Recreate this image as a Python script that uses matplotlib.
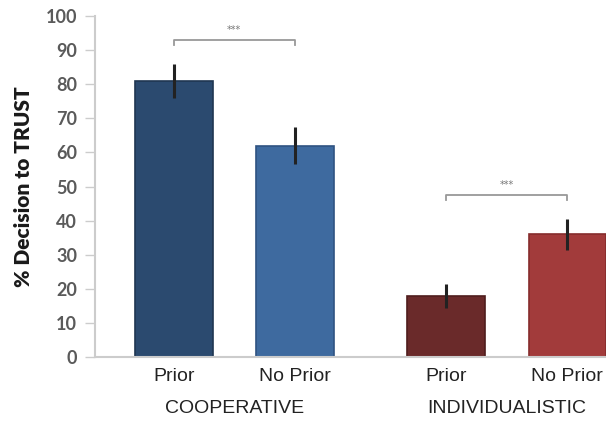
import matplotlib
matplotlib.use("Agg")
import matplotlib.pyplot as plt

# % decision to trust, by condition
conditions = ["Prior", "No Prior", "Prior", "No Prior"]
groups = ["COOPERATIVE", "INDIVIDUALISTIC"]
trust_pct = [81, 62, 18, 36]
trust_err = [5, 5.5, 3.5, 4.5]
bar_colors = ["#2b4a6f", "#3e6a9f", "#6a2a2a", "#a23b3b"]
edge_colors = ["#1f3652", "#2f5382", "#4f1d1d", "#862c2c"]
positions = [0, 1, 2.25, 3.25]
sig_pairs = [(0, 1), (2, 3)]

fig = plt.figure(figsize=[6.06, 4.21], dpi=100)
axes = fig.add_axes([0.157, 0.152, 0.843, 0.810])

axes.bar(positions, trust_pct, width=0.64, color=bar_colors,
         edgecolor=edge_colors, linewidth=1.2, zorder=2)
axes.errorbar(positions, trust_pct, yerr=trust_err, fmt="none",
              ecolor="#222222", elinewidth=2.2, capsize=0, zorder=3)

# significance brackets
for a, b in sig_pairs:
    top = max(trust_pct[a] + trust_err[a], trust_pct[b] + trust_err[b]) + 7
    xa, xb = positions[a], positions[b]
    axes.plot([xa, xa, xb, xb], [top - 1.5, top, top, top - 1.5],
              color="#999999", linewidth=1.3, zorder=2)
    axes.text((xa + xb) / 2, top + 1.5, "***", ha="center", va="bottom",
              fontsize=7, color="#777777")

axes.set_xlim(-0.65, 3.57)
axes.set_ylim(0, 100)
axes.set_yticks(range(0, 101, 10))
axes.set_ylabel("% Decision to TRUST", family="Lato", fontweight="heavy",
                fontsize=15, color="#1a1a1a", labelpad=9)
for label in axes.get_yticklabels():
    label.set_family("Lato")
    label.set_fontweight("bold")
    label.set_fontsize(13)
    label.set_color("#5a5a5a")
axes.tick_params(axis="y", length=7, width=1, color="#cccccc", pad=6)

axes.set_xticks(positions)
axes.set_xticklabels(conditions, family="Liberation Sans", fontsize=14,
                     color="#222222")
axes.tick_params(axis="x", length=0, pad=8)
for i, name in enumerate(groups):
    center = (positions[2 * i] + positions[2 * i + 1]) / 2
    axes.text(center, -0.125, name, transform=axes.get_xaxis_transform(),
              ha="center", va="top", family="Liberation Sans",
              fontsize=14, color="#222222")

for side in ["top", "right"]:
    axes.spines[side].set_visible(False)
axes.spines["left"].set_color("#cccccc")
axes.spines["bottom"].set_color("#cccccc")
axes.spines["left"].set_linewidth(1.5)
axes.spines["bottom"].set_linewidth(1.5)

fig.savefig("out.png", dpi=100)
